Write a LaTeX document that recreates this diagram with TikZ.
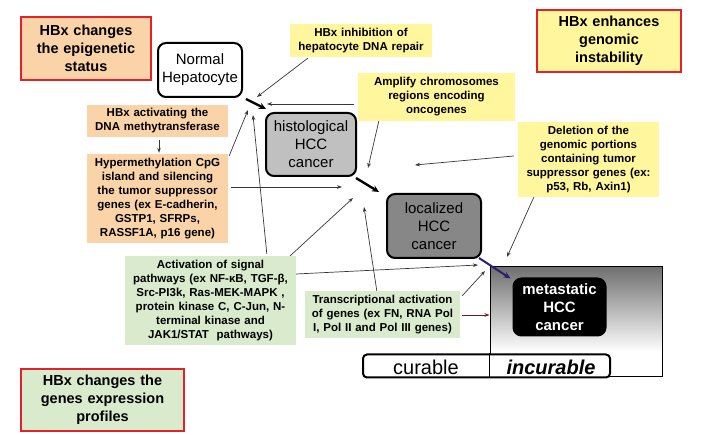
\documentclass[tikz,border=0pt]{standalone}
\usepackage{fontspec}
\setmainfont{Liberation Sans}
\usetikzlibrary{calc,arrows.meta}
\definecolor{peach}{RGB}{250,212,168}
\definecolor{lyellow}{RGB}{255,246,158}
\definecolor{lgreen}{RGB}{217,234,205}
\definecolor{redline}{RGB}{228,32,40}
\definecolor{histgray}{RGB}{192,192,192}
\definecolor{locgray}{RGB}{135,135,135}
\definecolor{linegray}{RGB}{55,55,55}
\definecolor{navy}{RGB}{46,30,110}
\definecolor{darkred}{RGB}{110,25,40}
\definecolor{gradtop}{RGB}{112,112,112}
\begin{document}
\begin{tikzpicture}[x=1pt,y=-1pt,
  callout/.style={inner sep=0pt, align=center, font=\bfseries\fontsize{11.5}{14}\selectfont},
  bigcall/.style={draw=redline, line width=2.2pt, inner sep=0pt, align=center, font=\bfseries\fontsize{14.5}{18}\selectfont},
  stage/.style={draw=black, line width=2pt, rounded corners=8pt, inner sep=0pt, align=center, font=\fontsize{15}{18}\selectfont},
  thin/.style={draw=linegray, line width=0.7pt, -{Stealth[length=5pt,width=3.6pt]}},
  thickarr/.style={draw=black, line width=2.4pt, -{Stealth[length=7pt,width=6.5pt]}}]
\useasboundingbox (0,0) rectangle (713,435);

% big red callouts
\node[bigcall, fill=peach, text width=130pt, minimum height=63pt] (epi) at (86,48.5) {HBx changes\\the epigenetic\\status};
\node[bigcall, fill=lyellow, text width=144pt, minimum height=62pt] (instab) at (609,41) {HBx enhances\\genomic\\instability};
\node[bigcall, fill=lgreen, text width=163pt, minimum height=62pt] (genes) at (102.5,400) {HBx changes the\\genes expression\\profiles};

% gradient box
\shade[top color=gradtop, bottom color=white] (490,267) rectangle (662,352);
\node[draw=black, line width=1pt, minimum width=172pt, minimum height=110pt, inner sep=0pt] (grad) at (576,322) {};

% stages
\node[stage, fill=white, text width=84pt, minimum height=54pt] (normal) at (200,70) {Normal\\Hepatocyte};
\node[stage, fill=histgray, text width=90pt, minimum height=63pt] (hist) at (311,144.5) {histological\\HCC\\cancer};
\node[stage, fill=locgray, text width=94pt, minimum height=64pt] (local) at (434,226) {localized\\HCC\\cancer};
\node[stage, fill=black, text=white, text width=92pt, minimum height=57pt, font=\bfseries\fontsize{15}{18}\selectfont] (meta) at (559.5,307) {metastatic\\HCC\\cancer};

% small callouts
\node[callout, fill=lyellow, text width=142pt, minimum height=33pt] (repair) at (361,40.5) {HBx inhibition of\\hepatocyte DNA repair};
\node[callout, fill=lyellow, text width=157pt, minimum height=48pt] (amplify) at (436.5,97) {Amplify chromosomes\\regions encoding\\oncogenes};
\node[callout, fill=lyellow, text width=141pt, minimum height=75pt] (deletion) at (588.5,159.5) {Deletion of the\\genomic portions\\containing tumor\\suppressor genes (ex:\\p53, Rb, Axin1)};
\node[callout, fill=peach, text width=141pt, minimum height=32pt] (dnamt) at (157.5,121) {HBx activating the\\DNA methytransferase};
\node[callout, fill=peach, text width=141pt, minimum height=89pt] (hyper) at (157.5,198.5) {Hypermethylation CpG\\island and silencing\\the tumor suppressor\\genes (ex E-cadherin,\\GSTP1, SFRPs,\\RASSF1A, p16 gene)};
\node[callout, fill=lgreen, text width=171pt, minimum height=89pt] (activ) at (210.5,300.5) {Activation of signal\\pathways (ex NF-κB, TGF-β,\\Src-PI3k, Ras-MEK-MAPK ,\\protein kinase C, C-Jun, N-\\terminal kinase and\\JAK1/STAT~~pathways)};
\node[callout, fill=lgreen, text width=155pt, minimum height=47pt] (transc) at (382.5,314.5) {Transcriptional activation\\of genes (ex FN, RNA Pol\\I, Pol II and Pol III genes)};

% curable / incurable bar
\node[draw=black, line width=2pt, fill=white, rounded corners=4pt, minimum width=247pt, minimum height=23pt, inner sep=0pt] (bar) at (486.5,366) {};
\draw[black, line width=1pt] (bar.north -| grad.west) -- (bar.south -| grad.west);
\node[anchor=base, inner sep=0pt, font=\fontsize{20}{20}\selectfont] (cur) at (426,375) {curable};
\node[anchor=base, inner sep=0pt, font=\bfseries\itshape\fontsize{20}{20}\selectfont] (inc) at (551,375) {incurable};

% free arrow ends
\coordinate (t1) at (257,97);
\coordinate (t2) at (267,104);
\coordinate (t3) at (368,168);
\coordinate (t4) at (415,165);
\coordinate (t5) at (507,257);
\coordinate (t7) at (248,110);
\coordinate (t8) at (342,187);
\coordinate (t9) at (253,115);
\coordinate (t10) at (353,198);
\coordinate (t11) at (478,265);
\coordinate (t12) at (364,207);
\coordinate (t13) at (485,271);

% thin arrows
\draw[thin] ($(repair.south west)+(18,1)$) -- (t1);
\draw[thin] ($(amplify.west)+(-4,7)$) -- (t2);
\draw[thin] ($(amplify.south west)+(21,0)$) -- (t3);
\draw[thin] ($(deletion.west)+(-4,-3.5)$) -- (t4);
\draw[thin] ($(deletion.south west)+(16,0)$) -- (t5);
\draw[thin] ($(dnamt.south)+(1.5,3)$) -- ($(hyper.north)+(1.5,-1)$);
\draw[thin] ($(hyper.north east)+(1,2)$) -- (t7);
\draw[thin] ($(hyper.east)+(3,-11.5)$) -- (t8);
\draw[thin] ($(activ.north west)+(142,-2)$) -- (t9);
\draw[thin] ($(activ.north east)+(-6,0)$) -- (t10);
\draw[thin] ($(activ.east)+(0,-26.5)$) -- (t11);
\draw[thin] ($(transc.north west)+(72,0)$) -- (t12);
\draw[thin] ($(transc.north east)+(2,5)$) -- (t13);
\draw[thin, draw=darkred, line width=0.9pt] ($(transc.east)+(2,0.5)$) -- (grad.west |- {$(transc.east)+(0,0.5)$});

% thick arrows
\draw[thickarr] ($(normal.south east)+(3,1)$) -- ($(hist.north west)+(1,-3)$);
\draw[thickarr] ($(hist.south east)+(-1,1)$) -- ($(local.north west)+(-7,-1)$);
\draw[draw=navy, fill=navy, line width=2pt, -{Stealth[length=7pt,width=6pt]}] ($(local.south east)+(-3,-1)$) -- ($(meta.north west)+(-2,1)$);
\end{tikzpicture}
\end{document}
